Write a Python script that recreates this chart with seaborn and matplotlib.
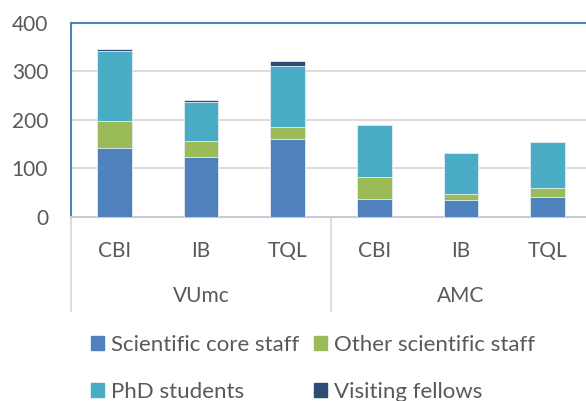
import matplotlib
matplotlib.use("Agg")
import matplotlib.pyplot as plt
import matplotlib.patches as mpatches
import matplotlib.transforms as mtransforms
import seaborn as sns
import pandas as pd
import numpy as np

groups = ["VUmc", "VUmc", "VUmc", "AMC", "AMC", "AMC"]
units = ["CBI", "IB", "TQL", "CBI", "IB", "TQL"]
core_staff = [142, 124, 161, 36, 35, 41]
other_staff = [56, 33, 25, 47, 11, 18]
phd_students = [145, 79, 125, 106, 86, 95]
visiting = [3, 4, 10, 0, 0, 0]
series_names = ["Scientific core staff", "Other scientific staff", "PhD students", "Visiting fellows"]
colors = ["#4F81BD", "#9BBB59", "#4BACC6", "#2C4D75"]
yticks = [0, 100, 200, 300, 400]

sns.set_theme(style="white")
plt.rcParams["font.family"] = ["Lato", "DejaVu Sans"]
txt = "#595959"
fs = 15

df = pd.DataFrame({"idx": [str(i) for i in range(len(units))],
                   "core": core_staff, "other": other_staff,
                   "phd": phd_students, "vis": visiting})
df["c1"] = df["core"]
df["c2"] = df["c1"] + df["other"]
df["c3"] = df["c2"] + df["phd"]
df["c4"] = df["c3"] + df["vis"]

fig = plt.figure(figsize=(5.86, 4.01), dpi=100)
ax = fig.add_axes([71/586, 184.3/401, 520/586, 193.7/401])

order = list(df["idx"])
for col, c in zip(["c4", "c3", "c2", "c1"], colors[::-1]):
    sns.barplot(data=df, x="idx", y=col, order=order, color=c, width=0.4,
                saturation=1, ax=ax, edgecolor="#E8EEF6", linewidth=0.6, zorder=3)

ax.set_ylim(0, 400)
ax.set_xlim(-0.5, 5.5)
ax.set_yticks(yticks)
ax.set_yticklabels([str(v) for v in yticks], fontsize=fs, color=txt)
ax.set_xticks(range(len(units)))
ax.set_xticklabels(units, fontsize=fs, color=txt)
ax.set_xlabel("")
ax.set_ylabel("")
ax.tick_params(axis="y", length=0, pad=16.5)
ax.tick_params(axis="x", length=0, pad=17.5)
ax.yaxis.grid(True, color="#D9D9D9", linewidth=1.3, zorder=0)
ax.set_axisbelow(True)
for s in ["top", "left"]:
    ax.spines[s].set_color("#4F81BD")
    ax.spines[s].set_linewidth(1.5)
ax.spines["right"].set_visible(False)
ax.spines["bottom"].set_color("#C4CCD9")
ax.spines["bottom"].set_linewidth(1.5)

# group separators and labels
trans = mtransforms.blended_transform_factory(ax.transData, ax.transAxes)
px = 1 / 193.7
for xs in [-0.5, 2.5, 5.5]:
    ax.plot([xs, xs], [0, -94 * px], transform=trans, color="#D9D9D9",
            linewidth=1.3, clip_on=False)
uniq = []
for g in groups:
    if g not in uniq:
        uniq.append(g)
for g in uniq:
    pos = [i for i, gg in enumerate(groups) if gg == g]
    ax.text(np.mean(pos), -79 * px, g, transform=trans, ha="center", va="center",
            fontsize=fs, color=txt)

handles = [mpatches.Patch(color=c) for c in colors]
order_h = [0, 2, 1, 3]
fig.legend([handles[i] for i in order_h], [series_names[i] for i in order_h],
           ncol=2, loc="upper left", bbox_to_anchor=(91/586, 1 - 335/401),
           frameon=False, fontsize=16, labelcolor=txt,
           handlelength=0.6, handleheight=0.6, handletextpad=0.3,
           columnspacing=0.65, labelspacing=1.2, borderpad=0, borderaxespad=0)

fig.savefig("out.png", dpi=100)
